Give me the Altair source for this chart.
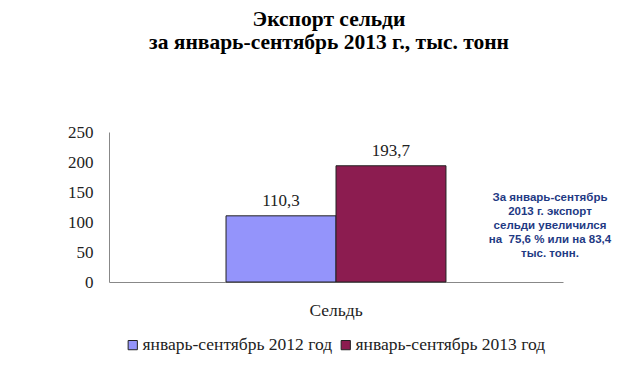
import altair as alt
import pandas as pd

categories = ["Сельдь", "Сельдь"]
series = ["январь-сентябрь 2012 год", "январь-сентябрь 2013 год"]
values = [110.3, 193.7]
value_labels = ["110,3", "193,7"]
colors = ["#9494FB", "#8C1C50"]
y_ticks = [0, 50, 100, 150, 200, 250]
title_lines = ["Экспорт сельди", "за январь-сентябрь 2013 г., тыс. тонн"]
note_lines = ["За январь-сентябрь", "2013 г. экспорт", "сельди увеличился",
              "на\u00a0 75,6 % или на 83,4", "тыс. тонн."]

df = pd.DataFrame({"cat": categories, "series": series, "value": values, "label": value_labels})

SERIF = "Liberation Serif"

x = alt.X("cat:N", title=None,
          scale=alt.Scale(paddingInner=0, paddingOuter=0.532),
          axis=alt.Axis(labelAngle=0, ticks=False, domainColor="#888888",
                        labelFont=SERIF, labelFontSize=17.5, labelColor="#222222",
                        labelPadding=19))
xo = alt.XOffset("series:N", scale=alt.Scale(paddingInner=0))
y = alt.Y("value:Q", title=None,
          scale=alt.Scale(domain=[0, 250], nice=False),
          axis=alt.Axis(values=y_ticks, grid=False, ticks=False,
                        labelOverlap=False, labelFlush=False,
                        domainColor="#888888", labelFont=SERIF, labelFontSize=17,
                        labelColor="#222222", labelPadding=16))

bars = alt.Chart(df).mark_bar(stroke="#222222", strokeWidth=1).encode(
    x=x, xOffset=xo, y=y,
    color=alt.Color("series:N", title=None,
                    scale=alt.Scale(domain=series, range=colors),
                    legend=alt.Legend(orient="none", legendX=15, legendY=204,
                                      direction="horizontal", symbolType="square",
                                      symbolSize=85, symbolStrokeColor="#222222",
                                      symbolStrokeWidth=1, labelFont=SERIF,
                                      labelFontSize=17.5, labelColor="#222222",
                                      labelLimit=0, labelOffset=1, columnPadding=4,
                                      symbolOffset=0)),
)

labels = alt.Chart(df).mark_text(baseline="bottom", dy=-6, font=SERIF, fontSize=17,
                                 color="#222222").encode(
    x=x, xOffset=xo, y=y, text="label:N")

note_df = pd.DataFrame({"text": ["\n".join(note_lines)]})
note = alt.Chart(note_df).mark_text(font="Liberation Sans", fontSize=11.5, fontWeight="bold",
                                    color="#1F3A84", lineHeight=14, align="center",
                                    baseline="middle", lineBreak="\n").encode(
    x=alt.value(441), y=alt.value(66), text="text:N")

chart = alt.layer(bars, labels, note).properties(
    width=454, height=150,
    title=alt.TitleParams(text=title_lines, font=SERIF, fontSize=21.5, fontWeight="bold",
                          color="#000000", anchor="middle", dx=-7, offset=70,
                          lineHeight=23),
    autosize=alt.AutoSizeParams(type="none"),
    padding={"left": 109, "top": 132, "right": 77, "bottom": 87},
    background="white",
).configure_view(stroke=None)

chart.save("out.html", embed_options={"renderer": "svg", "actions": False})
